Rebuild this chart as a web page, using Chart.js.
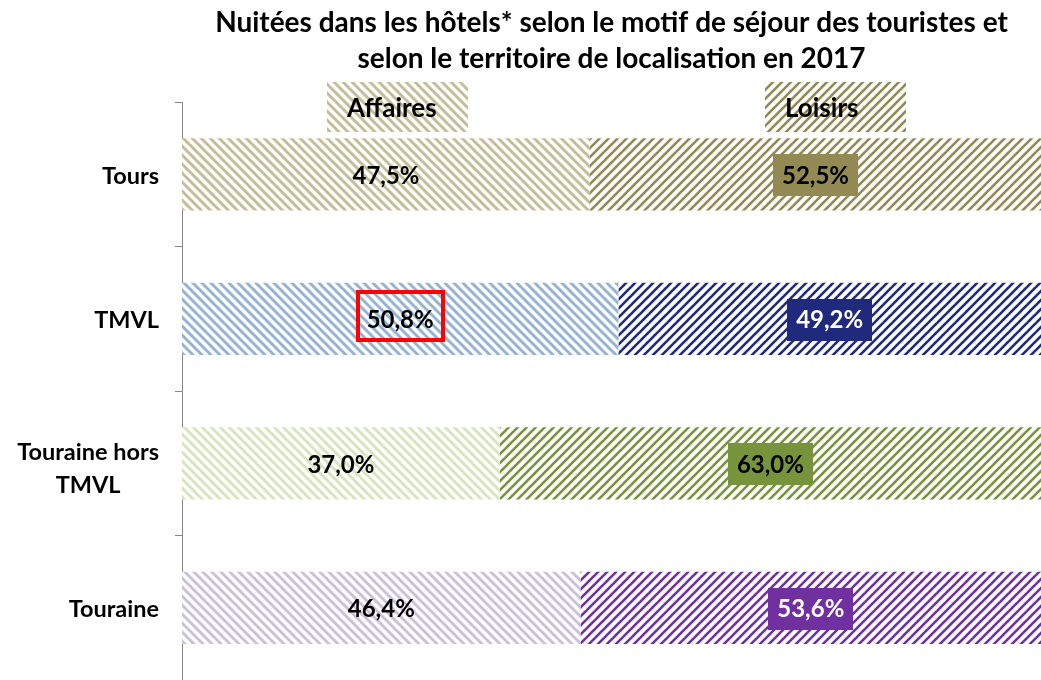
<!DOCTYPE html>
<html>
<head>
<meta charset="utf-8">
<script src="https://cdn.jsdelivr.net/npm/chart.js@4/dist/chart.umd.min.js"></script>
<style>
  html, body { margin: 0; padding: 0; background: #fff; }
  canvas { display: block; }
</style>
</head>
<body>
<canvas id="c" width="1041" height="680"></canvas>
<script>
// ---- data ----
const categories = ['Tours', 'TMVL', ['Touraine hors', 'TMVL'], 'Touraine'];
const seriesNames = ['Affaires', 'Loisirs'];
const affaires = [47.5, 50.8, 37.0, 46.4];
const loisirs = [52.5, 49.2, 63.0, 53.6];
const titleLines = ['Nuitées dans les hôtels* selon le motif de séjour des touristes et',
                    'selon le territoire de localisation en 2017'];

// ---- styles ----
const affairesColors = ['#C4BD97', '#95B3D7', '#D7E4BD', '#CCC1DA'];
const loisirsColors  = ['#938953', '#1F2A7C', '#77933C', '#7030A0'];
const loisirsTextColors = ['#000000', '#FFFFFF', '#000000', '#FFFFFF'];
const highlight = { dataset: 0, index: 1 };
const FONT = 'Lato, "Open Sans", sans-serif';

const canvas = document.getElementById('c');
const mainCtx = canvas.getContext('2d');

function stripes(color, dir, lw) {
  const s = 9;
  const c = document.createElement('canvas');
  c.width = s; c.height = s;
  const g = c.getContext('2d');
  g.fillStyle = '#fff';
  g.fillRect(0, 0, s, s);
  g.strokeStyle = color;
  g.lineWidth = lw;
  for (const k of [-1, 0, 1]) {
    g.beginPath();
    if (dir === 'down') { g.moveTo(k * s - 1, -1); g.lineTo(k * s + s + 1, s + 1); }
    else { g.moveTo(k * s - 1, s + 1); g.lineTo(k * s + s + 1, -1); }
    g.stroke();
  }
  return mainCtx.createPattern(c, 'repeat');
}

const affairesPatterns = affairesColors.map(c => stripes(c, 'down', 3));
const loisirsPatterns = loisirsColors.map(c => stripes(c, 'up', 2.6));

function fmt(v) { return v.toFixed(1).replace('.', ',') + '%'; }

const labelsPlugin = {
  id: 'labelsPlugin',
  afterDatasetsDraw(chart) {
    const ctx = chart.ctx;
    ctx.save();
    ctx.font = 'bold 24px ' + FONT;
    ctx.textAlign = 'center';
    ctx.textBaseline = 'middle';
    chart.data.datasets.forEach((ds, di) => {
      const meta = chart.getDatasetMeta(di);
      meta.data.forEach((bar, i) => {
        const l = Math.min(bar.x, bar.base), r = Math.max(bar.x, bar.base);
        const cx = (l + r) / 2, cy = bar.y + 2;
        const txt = fmt(ds.data[i]);
        const w = ctx.measureText(txt).width;
        if (di === 1) {
          ctx.fillStyle = loisirsColors[i];
          ctx.fillRect(Math.round(cx - w / 2 - 9), Math.round(cy - 22), Math.round(w + 18), 42);
          ctx.fillStyle = loisirsTextColors[i];
        } else {
          ctx.fillStyle = '#000';
        }
        ctx.fillText(txt, cx, cy);
        if (di === highlight.dataset && i === highlight.index) {
          ctx.strokeStyle = '#FF0000';
          ctx.lineWidth = 4;
          ctx.strokeRect(Math.round(cx - w / 2 - 9), Math.round(cy - 29), Math.round(w + 18), 48);
        }
      });
    });
    ctx.restore();
  }
};

const categoryLabelsPlugin = {
  id: 'categoryLabels',
  afterDraw(chart) {
    const ctx = chart.ctx;
    const y = chart.scales.y;
    ctx.save();
    ctx.font = 'bold 23.5px ' + FONT;
    ctx.fillStyle = '#000';
    ctx.textBaseline = 'middle';
    ctx.textAlign = 'center';
    const right = y.right - 23;
    categories.forEach((lab, i) => {
      const lines = Array.isArray(lab) ? lab : [lab];
      const bw = Math.max(...lines.map(t => ctx.measureText(t).width));
      const cx = right - bw / 2;
      const cy = y.getPixelForValue(i) + 2 + (lines.length > 1 ? 4 : 0);
      const lh = 33;
      lines.forEach((t, k) => {
        ctx.fillText(t, cx, cy + (k - (lines.length - 1) / 2) * lh);
      });
    });
    ctx.restore();
  }
};

const legendPlugin = {
  id: 'hatchLegend',
  afterDraw(chart) {
    const ctx = chart.ctx;
    const a = chart.chartArea;
    const centers = [0.25, 0.76];
    const patterns = [affairesPatterns[0], loisirsPatterns[0]];
    ctx.save();
    ctx.font = 'bold 26px ' + FONT;
    ctx.textBaseline = 'middle';
    ctx.textAlign = 'left';
    seriesNames.forEach((name, k) => {
      const cx = a.left + (a.right - a.left) * centers[k];
      const bx = Math.round(cx - 70), by = 82;
      ctx.fillStyle = patterns[k];
      ctx.fillRect(bx, by, 141, 50);
      ctx.fillStyle = '#000';
      ctx.fillText(name, bx + 20, by + 27);
    });
    ctx.restore();
  }
};

new Chart(canvas, {
  type: 'bar',
  data: {
    labels: categories,
    datasets: [
      { label: seriesNames[0], data: affaires, backgroundColor: affairesPatterns, borderWidth: 0 },
      { label: seriesNames[1], data: loisirs, backgroundColor: loisirsPatterns, borderWidth: 0 }
    ]
  },
  options: {
    indexAxis: 'y',
    responsive: false,
    animation: false,
    events: [],
    layout: { padding: { left: 0, right: 0, top: 0, bottom: 0 } },
    datasets: { bar: { categoryPercentage: 1, barPercentage: 0.5 } },
    scales: {
      x: { stacked: true, min: 0, max: 100, display: false },
      y: {
        stacked: true,
        ticks: { display: false },
        grid: { offset: true, drawOnChartArea: false, drawTicks: true, tickLength: 7, color: '#868686', lineWidth: 1 },
        border: { display: true, color: '#868686', width: 1 },
        afterFit(scale) { scale.width = 182; }
      }
    },
    plugins: {
      legend: { display: false },
      tooltip: { enabled: false },
      title: {
        display: true,
        text: titleLines,
        fullSize: false,
        color: '#000',
        font: { family: FONT, size: 28, weight: 'bold', lineHeight: 36 / 28 },
        padding: { top: 5, bottom: 25 }
      }
    }
  },
  plugins: [labelsPlugin, categoryLabelsPlugin, legendPlugin]
});
</script>
</body>
</html>
